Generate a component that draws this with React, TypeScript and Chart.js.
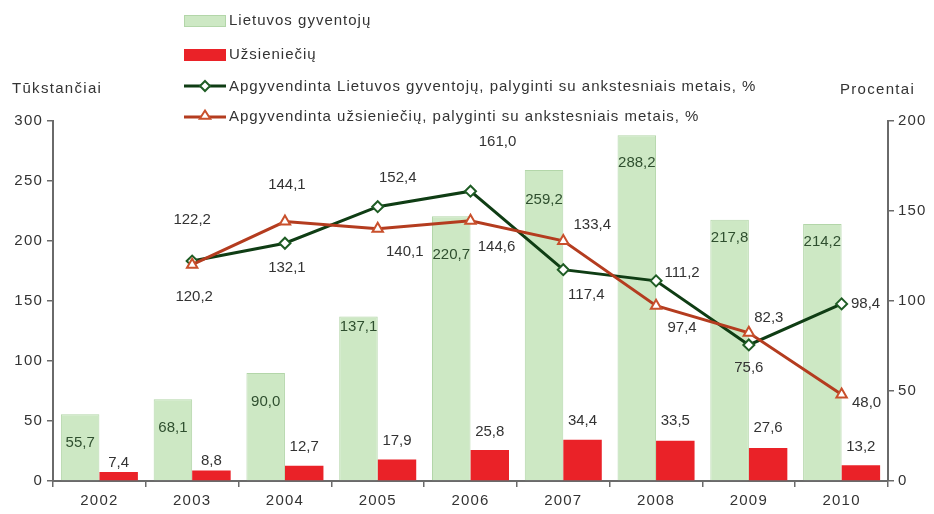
import React, { useEffect, useRef } from "react";
import { Chart, registerables } from "chart.js";

Chart.register(...registerables);

const years = ["2002", "2003", "2004", "2005", "2006", "2007", "2008", "2009", "2010"];
const residents = [55.7, 68.1, 90.0, 137.1, 220.7, 259.2, 288.2, 217.8, 214.2];
const foreigners = [7.4, 8.8, 12.7, 17.9, 25.8, 34.4, 33.5, 27.6, 13.2];
const residentsPct = [null, 122.2, 132.1, 152.4, 161.0, 117.4, 111.2, 75.6, 98.4];
const foreignersPct = [null, 120.2, 144.1, 140.1, 144.6, 133.4, 97.4, 82.3, 48.0];
const leftTicks = [0, 50, 100, 150, 200, 250, 300];
const rightTicks = [0, 50, 100, 150, 200];

const legendLabels = [
  "Lietuvos gyventojų",
  "Užsieniečių",
  "Apgyvendinta Lietuvos gyventojų, palyginti su ankstesniais metais, %",
  "Apgyvendinta užsieniečių, palyginti su ankstesniais metais, %",
];
const leftTitle = "Tūkstančiai";
const rightTitle = "Procentai";

// label placement (pixels relative to mark)
const residentsLabelDy = [29, 29, 29, 10, 39, 30, 28, 18, 18];
const foreignersLabelDy = [9, 10, 19, 19, 18, 19, 20, 20, 18];
const residentsPctOffset = [[0, 0], [0, -41], [2, 25], [20, -29], [27, -49], [23, 25], [26, -8], [0, 23], [24, 0]];
const foreignersPctOffset = [[0, 0], [2, 32], [2, -37], [27, 23], [26, 26], [29, -16], [26, 22], [20, -15], [25, 8]];

const FONT = '"Liberation Sans", Arial, sans-serif';
const GREEN_FILL = "#cde8c4";
const GREEN_BORDER = "#b3d6a9";
const RED_FILL = "#ea2228";
const GREEN_LINE = "#0f3d14";
const GREEN_MARK = "#1f5d25";
const RED_LINE = "#b43c1f";
const RED_MARK = "#c9502c";
const AXIS = "#6a6a6a";
const TEXT = "#333333";

const fmt = (v: number) => v.toFixed(1).replace(".", ",");

function diamond(ctx: CanvasRenderingContext2D, x: number, y: number, r: number) {
  ctx.beginPath();
  ctx.moveTo(x, y - r);
  ctx.lineTo(x + r, y);
  ctx.lineTo(x, y + r);
  ctx.lineTo(x - r, y);
  ctx.closePath();
}
function triangle(ctx: CanvasRenderingContext2D, x: number, y: number, r: number) {
  const h = r * 1.5;
  ctx.beginPath();
  ctx.moveTo(x, y - h * 0.66);
  ctx.lineTo(x + r * 0.87 * 1.1, y + h * 0.34);
  ctx.lineTo(x - r * 0.87 * 1.1, y + h * 0.34);
  ctx.closePath();
}

const spacingPlugin = {
  id: "spacing",
  beforeDraw(chart: any) {
    (chart.ctx as any).letterSpacing = "1.2px";
  },
};

const valueLabels = {
  id: "valueLabels",
  afterDatasetsDraw(chart: any) {
    const ctx = chart.ctx as CanvasRenderingContext2D;
    ctx.save();
    (ctx as any).letterSpacing = "0px";
    ctx.font = `15px ${FONT}`;
    ctx.textAlign = "center";
    ctx.textBaseline = "middle";
    const m0 = chart.getDatasetMeta(0);
    m0.data.forEach((el: any, i: number) => {
      ctx.fillStyle = "#2f4f2f";
      ctx.fillText(fmt(residents[i]), el.x, el.y + residentsLabelDy[i]);
    });
    const m1 = chart.getDatasetMeta(1);
    m1.data.forEach((el: any, i: number) => {
      ctx.fillStyle = TEXT;
      ctx.fillText(fmt(foreigners[i]), el.x, el.y - foreignersLabelDy[i]);
    });
    const m2 = chart.getDatasetMeta(2);
    m2.data.forEach((el: any, i: number) => {
      const v = residentsPct[i];
      if (v == null) return;
      ctx.fillStyle = TEXT;
      ctx.fillText(fmt(v), el.x + residentsPctOffset[i][0], el.y + residentsPctOffset[i][1]);
    });
    const m3 = chart.getDatasetMeta(3);
    m3.data.forEach((el: any, i: number) => {
      const v = foreignersPct[i];
      if (v == null) return;
      ctx.fillStyle = TEXT;
      ctx.fillText(fmt(v), el.x + foreignersPctOffset[i][0], el.y + foreignersPctOffset[i][1]);
    });
    ctx.restore();
  },
};

const legendAndTitles = {
  id: "legendAndTitles",
  afterDraw(chart: any) {
    const ctx = chart.ctx as CanvasRenderingContext2D;
    ctx.save();
    (ctx as any).letterSpacing = "1px";
    ctx.font = `15px ${FONT}`;
    ctx.textBaseline = "middle";
    ctx.textAlign = "left";
    ctx.fillStyle = TEXT;
    const x0 = 184;
    const x1 = 226;
    const tx = 229;
    const rows = [21, 55, 87, 117];
    // green box
    ctx.fillStyle = GREEN_FILL;
    ctx.fillRect(x0, rows[0] - 6, x1 - x0, 12);
    ctx.strokeStyle = GREEN_BORDER;
    ctx.lineWidth = 1;
    ctx.strokeRect(x0 + 0.5, rows[0] - 5.5, x1 - x0 - 1, 11);
    // red box
    ctx.fillStyle = RED_FILL;
    ctx.fillRect(x0, rows[1] - 6, x1 - x0, 12);
    // green line
    ctx.strokeStyle = GREEN_LINE;
    ctx.lineWidth = 3;
    ctx.beginPath();
    ctx.moveTo(x0, rows[2] - 1);
    ctx.lineTo(x1, rows[2] - 1);
    ctx.stroke();
    ctx.fillStyle = "#ffffff";
    ctx.strokeStyle = GREEN_MARK;
    ctx.lineWidth = 2;
    diamond(ctx, 205, rows[2] - 1, 5);
    ctx.fill();
    ctx.stroke();
    // red line
    ctx.strokeStyle = RED_LINE;
    ctx.lineWidth = 3;
    ctx.beginPath();
    ctx.moveTo(x0, rows[3]);
    ctx.lineTo(x1, rows[3]);
    ctx.stroke();
    ctx.fillStyle = "#ffffff";
    ctx.strokeStyle = RED_MARK;
    ctx.lineWidth = 2;
    triangle(ctx, 205, rows[3] - 1, 5.5);
    ctx.fill();
    ctx.stroke();

    ctx.fillStyle = TEXT;
    legendLabels.forEach((t, i) => ctx.fillText(t, tx, rows[i]));

    (ctx as any).letterSpacing = "1.3px";
    ctx.fillText(leftTitle, 12, 89);
    ctx.fillText(rightTitle, 840, 90);
    ctx.restore();
  },
};

export default function App() {
  const ref = useRef<HTMLCanvasElement | null>(null);
  useEffect(() => {
    document.body.style.margin = "0";
    document.body.style.overflow = "hidden";
    const canvas = ref.current;
    if (!canvas) return;
    const chart = new Chart(canvas, {
      type: "bar",
      data: {
        labels: years,
        datasets: [
          {
            type: "bar",
            label: legendLabels[0],
            data: residents,
            backgroundColor: GREEN_FILL,
            borderColor: GREEN_BORDER,
            borderWidth: 1,
            yAxisID: "y",
            order: 2,
            categoryPercentage: 0.83,
            barPercentage: 1.0,
          },
          {
            type: "bar",
            label: legendLabels[1],
            data: foreigners,
            backgroundColor: RED_FILL,
            borderWidth: 0,
            yAxisID: "y",
            order: 2,
            categoryPercentage: 0.83,
            barPercentage: 1.0,
          },
          {
            type: "line",
            label: legendLabels[2],
            data: residentsPct,
            borderColor: GREEN_LINE,
            borderWidth: 3,
            tension: 0,
            pointStyle: "rectRot",
            pointRadius: 5.5,
            pointBorderWidth: 2,
            pointBackgroundColor: "#ffffff",
            pointBorderColor: GREEN_MARK,
            yAxisID: "y2",
            order: 1,
          },
          {
            type: "line",
            label: legendLabels[3],
            data: foreignersPct,
            borderColor: RED_LINE,
            borderWidth: 3,
            tension: 0,
            pointStyle: "triangle",
            pointRadius: 6,
            pointBorderWidth: 2,
            pointBackgroundColor: "#ffffff",
            pointBorderColor: RED_MARK,
            yAxisID: "y2",
            order: 0,
          },
        ],
      },
      options: {
        responsive: false,
        animation: false,
        layout: { padding: { top: 121, left: 0, right: 0, bottom: 0 } },
        plugins: {
          legend: { display: false },
          tooltip: { enabled: false },
          title: { display: false },
        },
        scales: {
          x: {
            offset: true,
            grid: {
              offset: true,
              drawOnChartArea: false,
              drawTicks: true,
              tickLength: 6,
              color: AXIS,
              lineWidth: 1.5,
            },
            border: { display: true, color: AXIS, width: 2 },
            ticks: { color: TEXT, font: { family: FONT, size: 15 }, padding: 5 },
            afterFit: (s: any) => {
              s.height = 33;
            },
          },
          y: {
            position: "left",
            min: 0,
            max: 300,
            afterBuildTicks: (s: any) => {
              s.ticks = leftTicks.map((v) => ({ value: v }));
            },
            grid: { drawOnChartArea: false, drawTicks: true, tickLength: 6, color: AXIS, lineWidth: 1.5 },
            border: { display: true, color: AXIS, width: 2 },
            ticks: { color: TEXT, font: { family: FONT, size: 15 }, padding: 4 },
            afterFit: (s: any) => {
              s.width = 53;
            },
          },
          y2: {
            position: "right",
            min: 0,
            max: 200,
            afterBuildTicks: (s: any) => {
              s.ticks = rightTicks.map((v) => ({ value: v }));
            },
            grid: { drawOnChartArea: false, drawTicks: true, tickLength: 6, color: AXIS, lineWidth: 1.5 },
            border: { display: true, color: AXIS, width: 2 },
            ticks: { color: TEXT, font: { family: FONT, size: 15 }, padding: 4 },
            afterFit: (s: any) => {
              s.width = 46;
            },
          },
        },
      } as any,
      plugins: [spacingPlugin, valueLabels, legendAndTitles],
    });
    return () => chart.destroy();
  }, []);
  return (
    <div style={{ width: 934, height: 514 }}>
      <canvas ref={ref} width={934} height={514} style={{ display: "block" }} />
    </div>
  );
}
